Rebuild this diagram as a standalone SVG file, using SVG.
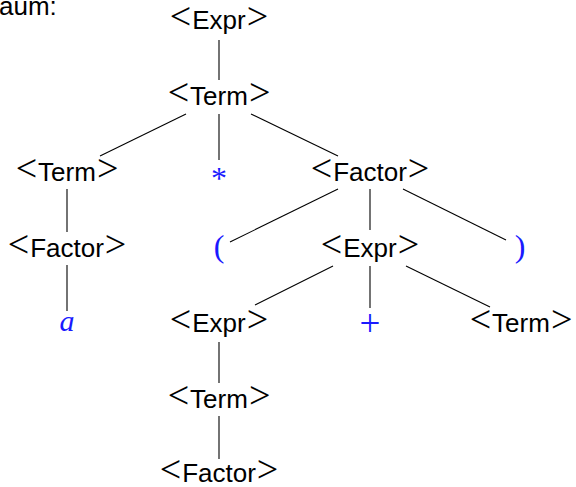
<svg xmlns="http://www.w3.org/2000/svg" width="576" height="487" viewBox="0 0 576 487">
<style>
.n{font-family:"Liberation Sans",Arial,sans-serif;font-size:26px;fill:#000;text-anchor:middle}
.b{font-family:"Liberation Serif","Times New Roman",serif;font-size:38px}
.t{font-family:"Liberation Serif","Times New Roman",serif;font-size:27px;fill:#1a1aff;text-anchor:middle}
.c line{stroke:#000;stroke-width:1.1}
</style>
<rect width="576" height="487" fill="#fff"/>
<text x="-1" y="15" class="n" style="text-anchor:start">aum:</text>
<g class="c" id="connectors">
<line x1="219" y1="40" x2="219" y2="80"/>
<line x1="186" y1="114" x2="100" y2="156"/>
<line x1="219" y1="114" x2="219" y2="160"/>
<line x1="251" y1="114" x2="338" y2="156"/>
<line x1="67" y1="189" x2="67" y2="232"/>
<line x1="338" y1="189" x2="230" y2="242"/>
<line x1="370" y1="189" x2="370" y2="230"/>
<line x1="403" y1="189" x2="506" y2="240"/>
<line x1="67" y1="265" x2="67" y2="311"/>
<line x1="333" y1="266" x2="255" y2="305"/>
<line x1="370" y1="266" x2="370" y2="308"/>
<line x1="406" y1="266" x2="490" y2="307"/>
<line x1="219" y1="342" x2="219" y2="383"/>
<line x1="219" y1="416" x2="219" y2="459"/>
</g>
<g id="expr0"><text class="n" x="219" y="29"><tspan class="b">&lt;</tspan><tspan dx="1">Expr</tspan><tspan class="b" dx="1">&gt;</tspan></text></g>
<g id="term1"><text class="n" x="219" y="105"><tspan class="b">&lt;</tspan><tspan dx="1">Term</tspan><tspan class="b" dx="1">&gt;</tspan></text></g>
<g id="termL"><text class="n" x="67" y="181"><tspan class="b">&lt;</tspan><tspan dx="1">Term</tspan><tspan class="b" dx="1">&gt;</tspan></text></g>
<g id="star"><text class="t" x="219" y="189" style="font-size:32px">*</text></g>
<g id="factorR"><text class="n" x="370" y="181"><tspan class="b">&lt;</tspan><tspan dx="1">Factor</tspan><tspan class="b" dx="1">&gt;</tspan></text></g>
<g id="factorL"><text class="n" x="67" y="257"><tspan class="b">&lt;</tspan><tspan dx="1">Factor</tspan><tspan class="b" dx="1">&gt;</tspan></text></g>
<g id="lparen"><text class="t" x="219" y="257" style="font-size:32px">(</text></g>
<g id="exprR"><text class="n" x="370" y="257"><tspan class="b">&lt;</tspan><tspan dx="1">Expr</tspan><tspan class="b" dx="1">&gt;</tspan></text></g>
<g id="rparen"><text class="t" x="520" y="257" style="font-size:32px">)</text></g>
<g id="a"><text class="t" x="67" y="331" style="font-style:italic;font-size:30px">a</text></g>
<g id="exprL"><text class="n" x="219" y="332"><tspan class="b">&lt;</tspan><tspan dx="1">Expr</tspan><tspan class="b" dx="1">&gt;</tspan></text></g>
<g id="plus"><text class="t" x="370" y="336" style="font-size:37px">+</text></g>
<g id="termR"><text class="n" x="521" y="332"><tspan class="b">&lt;</tspan><tspan dx="1">Term</tspan><tspan class="b" dx="1">&gt;</tspan></text></g>
<g id="term2"><text class="n" x="219" y="408"><tspan class="b">&lt;</tspan><tspan dx="1">Term</tspan><tspan class="b" dx="1">&gt;</tspan></text></g>
<g id="factorB"><text class="n" x="219" y="482"><tspan class="b">&lt;</tspan><tspan dx="1">Factor</tspan><tspan class="b" dx="1">&gt;</tspan></text></g>
</svg>
